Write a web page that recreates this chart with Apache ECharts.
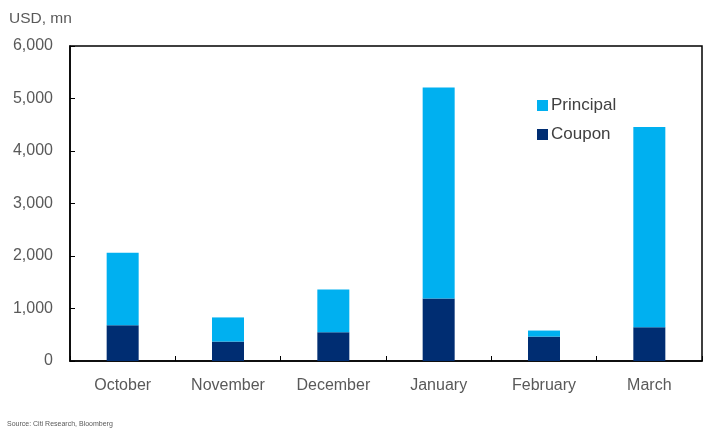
<!DOCTYPE html>
<html>
<head>
<meta charset="utf-8">
<script src="https://cdn.jsdelivr.net/npm/echarts@6/dist/echarts.min.js"></script>
<style>
html,body{margin:0;padding:0;background:#fff;}
#chart{width:711px;height:428px;}
</style>
</head>
<body>
<div id="chart"></div>
<script>
const categories = ["October", "November", "December", "January", "February", "March"];
const coupon = [680, 370, 550, 1190, 465, 645];
const principal = [1380, 460, 810, 4020, 115, 3810];
const yTicks = [0, 1000, 2000, 3000, 4000, 5000, 6000];

const chart = echarts.init(document.getElementById('chart'));
const fontFam = 'Liberation Sans, Arial, sans-serif';
chart.setOption({
  animation: false,
  backgroundColor: '#fff',
  grid: {
    left: 70, right: 9, top: 46, bottom: 67,
    show: true, borderColor: '#000', borderWidth: 1.5, backgroundColor: 'transparent'
  },
  title: [
    { text: 'USD, mn', left: 4, top: 6, textStyle: { fontFamily: fontFam, fontSize: 15.5, fontWeight: 'normal', color: '#595959' } },
    { text: 'Source: Citi Research, Bloomberg', left: 2, top: 416, textStyle: { fontFamily: fontFam, fontSize: 7, fontWeight: 'normal', color: '#595959' } }
  ],
  legend: {
    orient: 'vertical',
    left: 532, top: 92,
    itemWidth: 11, itemHeight: 11, itemGap: 12,
    icon: 'rect',
    data: ['Principal', 'Coupon'],
    textStyle: { fontFamily: fontFam, fontSize: 17, color: '#404040', padding: [0, 0, 0, -2] }
  },
  xAxis: {
    type: 'category',
    data: categories,
    axisLine: { lineStyle: { color: '#000', width: 1.5 } },
    axisTick: { show: true, inside: true, length: 5, lineStyle: { color: '#000' } },
    axisLabel: { fontFamily: fontFam, fontSize: 16, color: '#595959', margin: 17 }
  },
  yAxis: {
    type: 'value',
    min: yTicks[0], max: yTicks[yTicks.length - 1], interval: 1000,
    splitLine: { show: false },
    axisLine: { show: true, lineStyle: { color: '#000', width: 1.5 } },
    axisTick: { show: true, inside: true, length: 5, lineStyle: { color: '#000' } },
    axisLabel: {
      fontFamily: fontFam, fontSize: 16, color: '#595959', margin: 17,
      formatter: v => v.toLocaleString('en-US')
    }
  },
  series: [
    { name: 'Coupon', type: 'bar', stack: 'total', data: coupon, barWidth: 32, itemStyle: { color: '#002D72' } },
    { name: 'Principal', type: 'bar', stack: 'total', data: principal, barWidth: 32, itemStyle: { color: '#00B0F0' } }
  ]
});
</script>
</body>
</html>
